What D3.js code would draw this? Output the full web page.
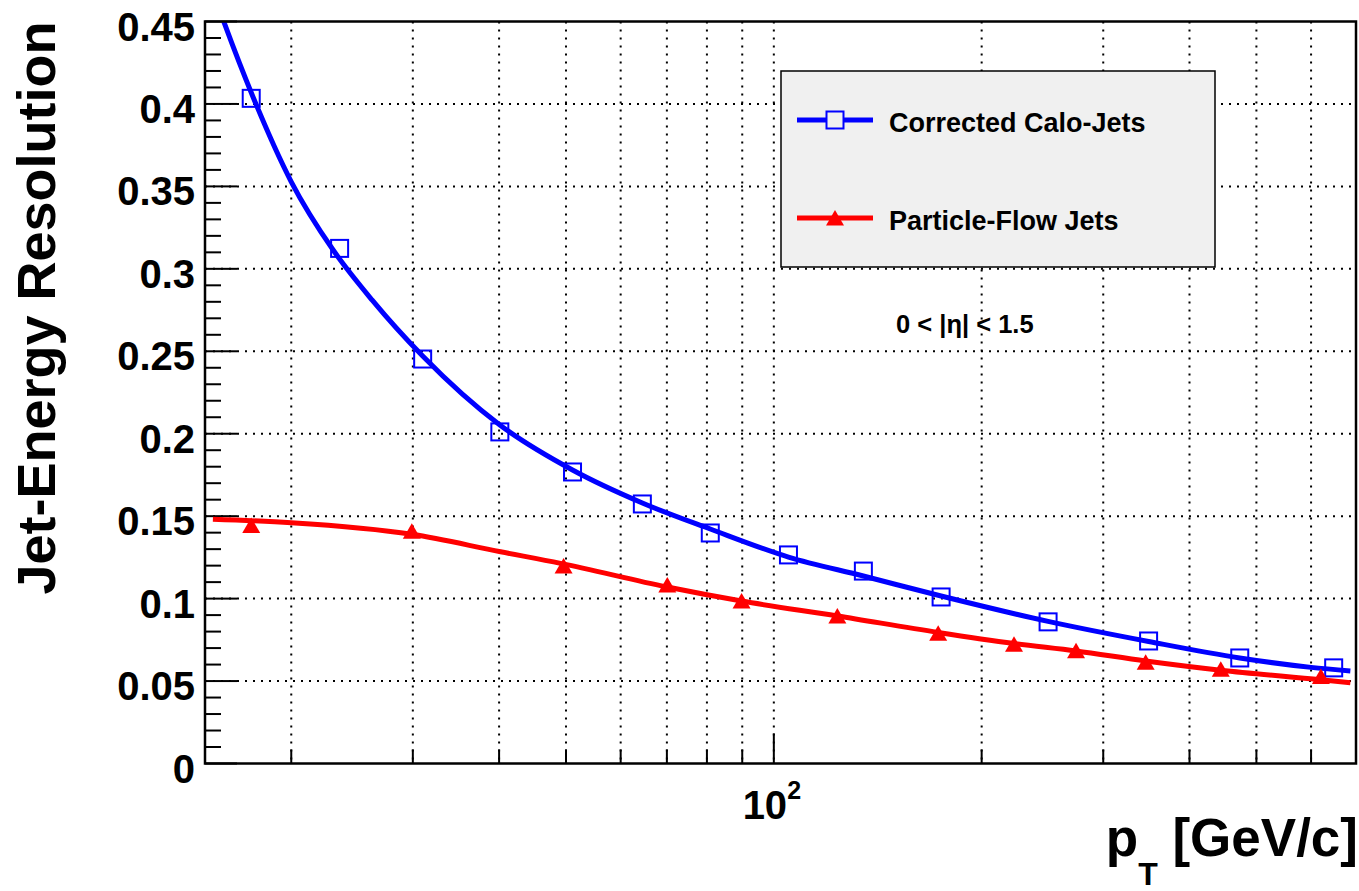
<!DOCTYPE html>
<html>
<head>
<meta charset="utf-8">
<script src="https://cdn.jsdelivr.net/npm/d3@7/dist/d3.min.js"></script>
<style>
body { margin: 0; background: #fff; }
text { font-family: "Liberation Sans", Arial, Helvetica, sans-serif; font-weight: bold; fill: #000; }
</style>
</head>
<body>
<div id="chart"></div>
<script>
// measured points (pT in GeV/c, resolution)
var caloPt  = [17.5, 23.5, 31.0, 40.1, 51.1, 64.5, 80.9, 105, 134.8, 174.7, 249.6, 349, 473, 647];
var caloRes = [0.4034, 0.3124, 0.2453, 0.2011, 0.1768, 0.1574, 0.1398, 0.1265, 0.1167, 0.1010, 0.0859, 0.0743, 0.0640, 0.0580];

var pfPt  = [17.5, 29.9, 49.6, 70.1, 89.8, 123.6, 173, 222.8, 274, 345.6, 444, 620];
var pfRes = [0.1444, 0.1408, 0.1198, 0.1083, 0.0985, 0.0894, 0.0790, 0.0723, 0.0684, 0.0614, 0.0571, 0.0527];

// fitted curves
var caloFitPt = [15.0, 16.0, 17.6, 20.0, 23.0, 26.2, 31.0, 40.1, 51.1, 64.5, 80.9, 105, 134.8, 174.7, 249.6, 349, 473, 600, 684];
var caloFit   = [0.482, 0.449, 0.4044, 0.3528, 0.3114, 0.281, 0.2471, 0.2053, 0.178, 0.158, 0.1422, 0.1252, 0.1137, 0.1016, 0.0862, 0.0740, 0.0640, 0.0583, 0.0561];

var pfFitPt = [15.4, 20, 29.9, 40.2, 49.1, 70.1, 89.8, 123.6, 173, 222.8, 274, 345.6, 444, 620, 684];
var pfFit   = [0.1481, 0.146, 0.139, 0.1284, 0.1214, 0.107, 0.0985, 0.0895, 0.0795, 0.0728, 0.0682, 0.0622, 0.0566, 0.0508, 0.049];

// axis ticks
var xMinorTicks = [20, 30, 40, 50, 60, 70, 80, 90, 200, 300, 400, 500, 600];
var xMajorTicks = [100];
var yMajorTicks = [0, 0.05, 0.1, 0.15, 0.2, 0.25, 0.3, 0.35, 0.4, 0.45];
var yTickLabels = ["0", "0.05", "0.1", "0.15", "0.2", "0.25", "0.3", "0.35", "0.4", "0.45"];

var legendNames = ["Corrected Calo-Jets", "Particle-Flow Jets"];

var w = 1359;
var h = 891;
// plot frame (note: "top" is taken by window.top)
var pL = 205, pR = 1356, pT = 21.5, pB = 763.5;

var xScale = d3.scaleLog().domain([15, 697]).range([pL, pR]);
var yScale = d3.scaleLinear().domain([0, 0.45]).range([pB, pT]);

var svg = d3.select("#chart")
	.append("svg")
	.attr("width", w)
	.attr("height", h);

svg.append("defs").append("clipPath")
	.attr("id", "plotClip")
	.append("rect")
	.attr("x", pL).attr("y", pT)
	.attr("width", pR - pL).attr("height", pB - pT);

//grid
var grid = svg.append("g").attr("class", "grid");
grid.selectAll("line.vx")
	.data(xMinorTicks.concat(xMajorTicks))
	.enter()
	.append("line")
	.attr("x1", function(d){ return xScale(d); })
	.attr("x2", function(d){ return xScale(d); })
	.attr("y1", pT)
	.attr("y2", pB)
	.attr("stroke", "#000")
	.attr("stroke-width", 2)
	.attr("stroke-dasharray", "2,6");

grid.selectAll("line.hy")
	.data(yMajorTicks.slice(1, -1))
	.enter()
	.append("line")
	.attr("x1", pL)
	.attr("x2", pR)
	.attr("y1", function(d){ return yScale(d); })
	.attr("y2", function(d){ return yScale(d); })
	.attr("stroke", "#000")
	.attr("stroke-width", 2)
	.attr("stroke-dasharray", "2,6");

//Y axis ticks, minor every 0.01
var yMinor = d3.range(0, 46).map(function(i){ return i / 100; });
svg.append("g")
	.selectAll("line")
	.data(yMinor)
	.enter()
	.append("line")
	.attr("x1", pL)
	.attr("x2", function(d, i){ return pL + (i % 5 == 0 ? 32 : 16); })
	.attr("y1", function(d){ return yScale(d); })
	.attr("y2", function(d){ return yScale(d); })
	.attr("stroke", "#000")
	.attr("stroke-width", 2);

//X axis ticks
svg.append("g")
	.selectAll("line")
	.data(xMinorTicks)
	.enter()
	.append("line")
	.attr("x1", function(d){ return xScale(d); })
	.attr("x2", function(d){ return xScale(d); })
	.attr("y1", pB)
	.attr("y2", pB - 14)
	.attr("stroke", "#000")
	.attr("stroke-width", 2);

svg.append("g")
	.selectAll("line")
	.data(xMajorTicks)
	.enter()
	.append("line")
	.attr("x1", function(d){ return xScale(d); })
	.attr("x2", function(d){ return xScale(d); })
	.attr("y1", pB)
	.attr("y2", pB - 30)
	.attr("stroke", "#000")
	.attr("stroke-width", 2);

//Y tick labels
svg.append("g")
	.selectAll("text")
	.data(yMajorTicks)
	.enter()
	.append("text")
	.attr("x", 195)
	.attr("y", function(d){ return yScale(d) + 19; })
	.attr("text-anchor", "end")
	.style("font-size", "40px")
	.text(function(d, i){ return yTickLabels[i]; });

//X tick label 10^2
var xl = svg.append("text")
	.attr("x", xScale(100) - 2)
	.attr("y", 819)
	.attr("text-anchor", "middle")
	.style("font-size", "40px");
xl.append("tspan").text("10");
xl.append("tspan").attr("dy", -20).style("font-size", "25px").text("2");

//Axis titles
svg.append("text")
	.attr("transform", "translate(55," + pT + ") rotate(-90)")
	.attr("text-anchor", "end")
	.style("font-size", "54px")
	.text("Jet-Energy Resolution");

var xt = svg.append("text")
	.attr("x", pR + 2)
	.attr("y", 856)
	.attr("text-anchor", "end")
	.style("font-size", "53px");
xt.append("tspan").text("p");
xt.append("tspan").attr("dy", 29).style("font-size", "32px").text("T");
xt.append("tspan").attr("dy", -29).text(" [GeV/c]");

//curves
var line = d3.line()
	.x(function(d){ return xScale(d[0]); })
	.y(function(d){ return yScale(d[1]); })
	.curve(d3.curveMonotoneX);

var plot = svg.append("g").attr("clip-path", "url(#plotClip)");

plot.append("path")
	.attr("d", line(d3.zip(pfFitPt, pfFit)))
	.attr("fill", "none")
	.attr("stroke", "#ff0000")
	.attr("stroke-width", 5);

plot.append("path")
	.attr("d", line(d3.zip(caloFitPt, caloFit)))
	.attr("fill", "none")
	.attr("stroke", "#0000ff")
	.attr("stroke-width", 5);

//markers
var sq = 17;
svg.append("g")
	.selectAll("rect")
	.data(d3.zip(caloPt, caloRes))
	.enter()
	.append("rect")
	.attr("x", function(d){ return xScale(d[0]) - sq / 2; })
	.attr("y", function(d){ return yScale(d[1]) - sq / 2; })
	.attr("width", sq)
	.attr("height", sq)
	.attr("fill", "none")
	.attr("stroke", "#0000ff")
	.attr("stroke-width", 2);

function triangle(cx, cy){
	return "M" + (cx - 9) + "," + (cy + 7.5) + "L" + (cx + 9) + "," + (cy + 7.5) + "L" + cx + "," + (cy - 8) + "Z";
}

svg.append("g")
	.selectAll("path")
	.data(d3.zip(pfPt, pfRes))
	.enter()
	.append("path")
	.attr("d", function(d){ return triangle(xScale(d[0]), yScale(d[1])); })
	.attr("fill", "#ff0000");

//frame
svg.append("rect")
	.attr("x", pL).attr("y", pT)
	.attr("width", pR - pL).attr("height", pB - pT)
	.attr("fill", "none")
	.attr("stroke", "#000")
	.attr("stroke-width", 2.5);

//legend
var lg = svg.append("g");
lg.append("rect")
	.attr("x", 781).attr("y", 71)
	.attr("width", 434).attr("height", 196)
	.attr("fill", "#f0f0f0")
	.attr("stroke", "#000")
	.attr("stroke-width", 1.5);

var legendY = [120, 218];
var legendColor = ["#0000ff", "#ff0000"];
legendNames.forEach(function(name, i){
	lg.append("line")
		.attr("x1", 797).attr("x2", 873)
		.attr("y1", legendY[i]).attr("y2", legendY[i])
		.attr("stroke", legendColor[i])
		.attr("stroke-width", 5);
	if(i == 0){
		lg.append("rect")
			.attr("x", 835 - sq / 2).attr("y", legendY[i] - sq / 2)
			.attr("width", sq).attr("height", sq)
			.attr("fill", "#f0f0f0")
			.attr("stroke", "#0000ff")
			.attr("stroke-width", 2);
	} else {
		lg.append("path")
			.attr("d", triangle(835, legendY[i]))
			.attr("fill", "#ff0000");
	}
	lg.append("text")
		.attr("x", 889)
		.attr("y", legendY[i] + 12)
		.style("font-size", "27px")
		.text(name);
});

svg.append("text")
	.attr("x", 896)
	.attr("y", 333)
	.style("font-size", "25.5px")
	.text("0 < |η| < 1.5");
</script>
</body>
</html>
